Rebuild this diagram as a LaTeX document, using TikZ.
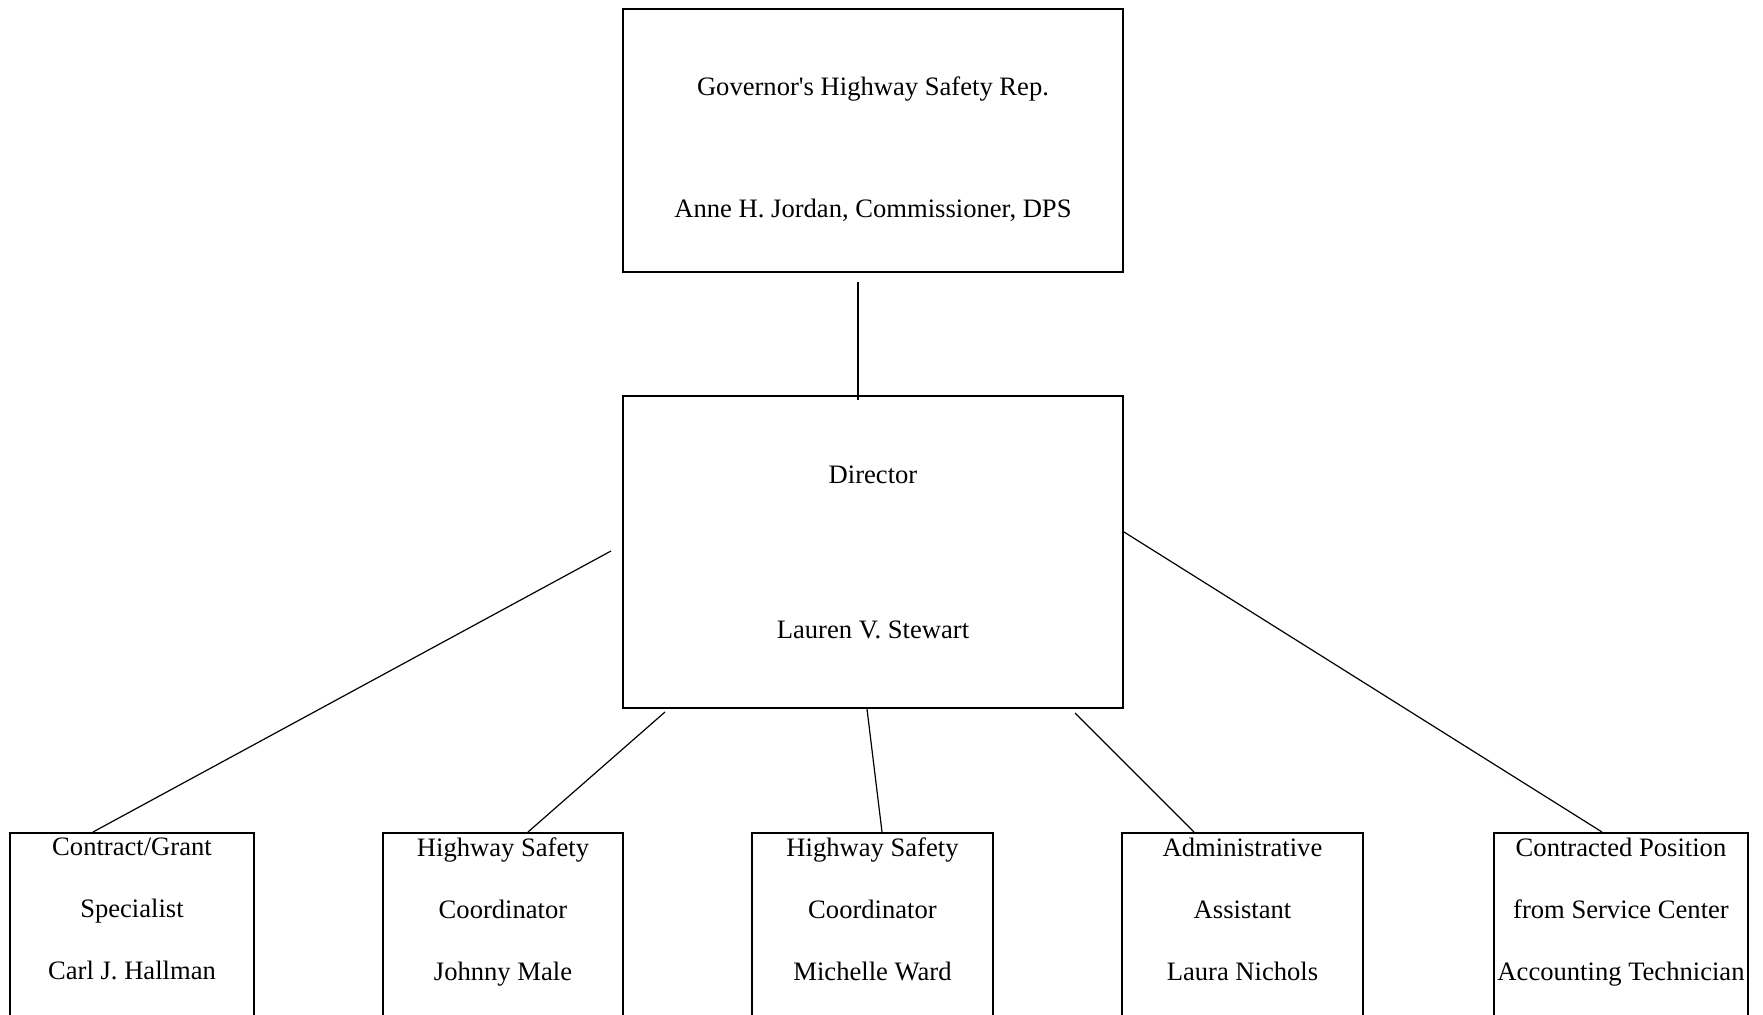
\documentclass[tikz,border=0pt]{standalone}
\usepackage{fontspec}
\setmainfont{Liberation Serif}
\usetikzlibrary{calc}

\begin{document}
\begin{tikzpicture}[x=0.5pt,y=-0.5pt,font=\fontsize{13.3}{16}\selectfont,
  box/.style={draw,line width=1pt,align=center,inner sep=0pt},
  staff/.style={box,anchor=north,inner xsep=1pt,inner ysep=2.5pt,text depth=150pt},
  link/.style={line width=0.6pt}]
\clip (0,0) rectangle (1763,1015);
\node[box,minimum width=250pt,minimum height=131.5pt] (ghsr) at (873,140.5)
     {\rule{0pt}{18.2pt}Governor\textquotesingle s Highway Safety Rep.\\[45pt]Anne H. Jordan, Commissioner, DPS};
\node[box,minimum width=250pt,minimum height=156pt] (dir) at (873,552)
     {Director\\[61.5pt]Lauren V. Stewart};
\node[staff,minimum width=122pt] (cgs) at (132,832)
     {Contract/Grant\\[15pt]Specialist\\[15pt]Carl J. Hallman};
\node[staff,minimum width=120pt] (hsc1) at (503,832)
     {Highway Safety\\[15pt]Coordinator\\[15pt]Johnny Male};
\node[staff,minimum width=120.5pt] (hsc2) at (872.5,832)
     {Highway Safety\\[15pt]Coordinator\\[15pt]Michelle Ward};
\node[staff,minimum width=120.5pt] (aa) at (1242.5,832)
     {Administrative\\[15pt]Assistant\\[15pt]Laura Nichols};
\node[staff,minimum width=127pt] (cp) at (1621,832)
     {Contracted Position\\[15pt]from Service Center\\[15pt]Accounting Technician};
\draw[link] ($(ghsr.south)+(-15,9)$) -- ($(dir.north)+(-15,5)$);
\draw[link] ($(dir.west)+(-11,-1)$) -- ($(cgs.north)+(-39,0)$);
\draw[link] ($(dir.south west)+(43,3)$) -- ($(hsc1.north)+(25,0)$);
\draw[link] ($(dir.south)+(-6,0)$) -- ($(hsc2.north)+(9.5,0)$);
\draw[link] ($(dir.south east)+(-49,4)$) -- ($(aa.north)+(-48.5,0)$);
\draw[link] ($(dir.east)+(0,-20)$) -- ($(cp.north)+(-19,0)$);
\end{tikzpicture}
\end{document}
